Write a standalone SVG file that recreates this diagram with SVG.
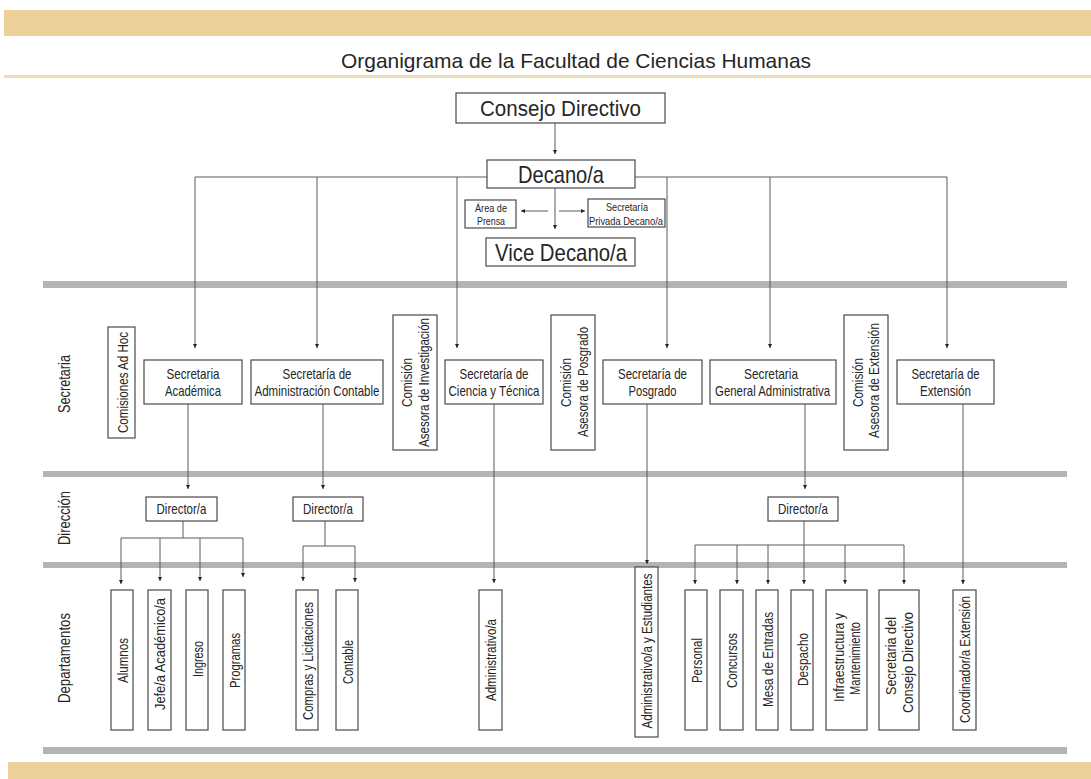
<svg xmlns="http://www.w3.org/2000/svg" width="1091" height="779" viewBox="0 0 1091 779">
<defs>
<style>
.bg{fill:#ffffff}
.tan{fill:#EBD09A}
.tanl{fill:#EFDCB2}
.gray{fill:#B4B4B4}
.box{fill:#ffffff;stroke:#4a4a4a;stroke-width:1.2}
.t{font-family:"Liberation Sans",Arial,sans-serif;fill:#262626;text-anchor:middle}
.c line,.c path{stroke:#5a5a5a;stroke-width:1;fill:none}
</style>
<marker id="ah" viewBox="0 0 6 6" markerWidth="5" markerHeight="4" refX="6" refY="3" orient="auto" markerUnits="userSpaceOnUse">
<path d="M0,0 L6,3 L0,6 z" fill="#222"/>
</marker>
</defs>
<rect class="bg" x="0" y="0" width="1091" height="779"/>
<rect class="tan" x="4" y="10" width="1087" height="26"/>
<rect class="tanl" x="4" y="75" width="1087" height="3"/>
<rect class="tan" x="8" y="762" width="1083" height="17"/>
<rect class="gray" x="43" y="281" width="1024" height="7"/>
<rect class="gray" x="43" y="471" width="1024" height="6"/>
<rect class="gray" x="43" y="562" width="1024" height="6"/>
<rect class="gray" x="43" y="747" width="1024" height="7"/>

<text class="t" x="576" y="68" font-size="21" textLength="470" lengthAdjust="spacingAndGlyphs">Organigrama de la Facultad de Ciencias Humanas</text>

<g class="t" font-size="16">
<text transform="translate(64,384) rotate(-90)" x="0" y="5.5" textLength="58" lengthAdjust="spacingAndGlyphs">Secretaria</text>
<text transform="translate(64,518) rotate(-90)" x="0" y="5.5" textLength="54" lengthAdjust="spacingAndGlyphs">Dirección</text>
<text transform="translate(64,658) rotate(-90)" x="0" y="5.5" textLength="90" lengthAdjust="spacingAndGlyphs">Departamentos</text>
</g>

<g class="c">
<line x1="555" y1="123" x2="555" y2="154" marker-end="url(#ah)"/>
<line x1="555" y1="188" x2="555" y2="229" marker-end="url(#ah)"/>
<line x1="548" y1="211" x2="521" y2="211" marker-end="url(#ah)"/>
<line x1="559" y1="211" x2="585" y2="211" marker-end="url(#ah)"/>
<line x1="195" y1="177" x2="487" y2="177"/>
<line x1="635" y1="177" x2="947" y2="177"/>
<line x1="195" y1="177" x2="195" y2="348" marker-end="url(#ah)"/>
<line x1="317" y1="177" x2="317" y2="348" marker-end="url(#ah)"/>
<line x1="457" y1="177" x2="457" y2="348" marker-end="url(#ah)"/>
<line x1="667" y1="177" x2="667" y2="348" marker-end="url(#ah)"/>
<line x1="770" y1="177" x2="770" y2="348" marker-end="url(#ah)"/>
<line x1="947" y1="177" x2="947" y2="348" marker-end="url(#ah)"/>
<line x1="188" y1="404" x2="188" y2="489" marker-end="url(#ah)"/>
<line x1="323" y1="404" x2="323" y2="489" marker-end="url(#ah)"/>
<line x1="805" y1="404" x2="805" y2="489" marker-end="url(#ah)"/>
<line x1="494" y1="404" x2="494" y2="583" marker-end="url(#ah)"/>
<line x1="647" y1="404" x2="647" y2="564" marker-end="url(#ah)"/>
<line x1="963" y1="404" x2="963" y2="584" marker-end="url(#ah)"/>
<line x1="183" y1="521" x2="183" y2="538"/>
<line x1="121" y1="538" x2="243" y2="538"/>
<line x1="121" y1="538" x2="121" y2="584" marker-end="url(#ah)"/>
<line x1="160" y1="538" x2="160" y2="581" marker-end="url(#ah)"/>
<line x1="200" y1="538" x2="200" y2="581" marker-end="url(#ah)"/>
<line x1="243" y1="538" x2="243" y2="577" marker-end="url(#ah)"/>
<line x1="325" y1="521" x2="325" y2="546"/>
<line x1="303" y1="546" x2="355" y2="546"/>
<line x1="303" y1="546" x2="303" y2="581" marker-end="url(#ah)"/>
<line x1="355" y1="546" x2="355" y2="582" marker-end="url(#ah)"/>
<line x1="804" y1="521" x2="804" y2="584" marker-end="url(#ah)"/>
<line x1="695" y1="545" x2="904" y2="545"/>
<line x1="695" y1="545" x2="695" y2="584" marker-end="url(#ah)"/>
<line x1="737" y1="545" x2="737" y2="584" marker-end="url(#ah)"/>
<line x1="768" y1="545" x2="768" y2="584" marker-end="url(#ah)"/>
<line x1="845" y1="545" x2="845" y2="584" marker-end="url(#ah)"/>
<line x1="904" y1="545" x2="904" y2="584" marker-end="url(#ah)"/>
</g>

<g id="consejo"><rect class="box" x="456" y="93" width="209" height="30"/><text class="t" x="560.5" y="116" font-size="22" textLength="161" lengthAdjust="spacingAndGlyphs">Consejo Directivo</text></g>
<g id="decano"><rect class="box" x="487" y="160" width="148" height="28"/><text class="t" x="561" y="182.5" font-size="24" textLength="86" lengthAdjust="spacingAndGlyphs">Decano/a</text></g>
<g id="vice"><rect class="box" x="486" y="238" width="149" height="28"/><text class="t" x="561" y="260.5" font-size="24" textLength="132" lengthAdjust="spacingAndGlyphs">Vice Decano/a</text></g>
<g id="prensa"><rect class="box" x="465" y="200" width="51" height="28"/><text class="t" x="491" y="211.5" font-size="11" textLength="32" lengthAdjust="spacingAndGlyphs">Área de</text><text class="t" x="491" y="225" font-size="11" textLength="28" lengthAdjust="spacingAndGlyphs">Prensa</text></g>
<g id="privada"><rect class="box" x="588" y="199" width="77" height="28"/><text class="t" x="627" y="211" font-size="11" textLength="42" lengthAdjust="spacingAndGlyphs">Secretaría</text><text class="t" x="626" y="224.5" font-size="11" textLength="74" lengthAdjust="spacingAndGlyphs">Privada Decano/a</text></g>

<g id="sec-academica"><rect class="box" x="144" y="360" width="98" height="44"/><text class="t" x="193" y="378.5" font-size="15" textLength="53" lengthAdjust="spacingAndGlyphs">Secretaria</text><text class="t" x="193" y="395.5" font-size="15" textLength="56" lengthAdjust="spacingAndGlyphs">Académica</text></g>
<g id="sec-contable"><rect class="box" x="251" y="360" width="132" height="44"/><text class="t" x="317" y="378.5" font-size="15" textLength="69" lengthAdjust="spacingAndGlyphs">Secretaría de</text><text class="t" x="317" y="395.5" font-size="15" textLength="125" lengthAdjust="spacingAndGlyphs">Administración Contable</text></g>
<g id="sec-ciencia"><rect class="box" x="445" y="360" width="98" height="44"/><text class="t" x="494" y="378.5" font-size="15" textLength="69" lengthAdjust="spacingAndGlyphs">Secretaría de</text><text class="t" x="494" y="395.5" font-size="15" textLength="91" lengthAdjust="spacingAndGlyphs">Ciencia y Técnica</text></g>
<g id="sec-posgrado"><rect class="box" x="603" y="360" width="99" height="44"/><text class="t" x="652.5" y="378.5" font-size="15" textLength="69" lengthAdjust="spacingAndGlyphs">Secretaría de</text><text class="t" x="652.5" y="395.5" font-size="15" textLength="48" lengthAdjust="spacingAndGlyphs">Posgrado</text></g>
<g id="sec-general"><rect class="box" x="710" y="360" width="126" height="44"/><text class="t" x="771" y="378.5" font-size="15" textLength="54" lengthAdjust="spacingAndGlyphs">Secretaria</text><text class="t" x="772.5" y="395.5" font-size="15" textLength="115" lengthAdjust="spacingAndGlyphs">General Administrativa</text></g>
<g id="sec-extension"><rect class="box" x="897" y="360" width="97" height="44"/><text class="t" x="945.5" y="378.5" font-size="15" textLength="68" lengthAdjust="spacingAndGlyphs">Secretaría de</text><text class="t" x="945.5" y="395.5" font-size="15" textLength="51" lengthAdjust="spacingAndGlyphs">Extensión</text></g>

<g id="com-adhoc"><rect class="box" x="108" y="327" width="27" height="111"/><text class="t" transform="translate(122,382.5) rotate(-90)" x="0" y="5.5" font-size="15" textLength="101" lengthAdjust="spacingAndGlyphs">Comisiones Ad Hoc</text></g>
<g id="com-investigacion"><rect class="box" x="393" y="315" width="44" height="135"/><text class="t" transform="translate(406,382.5) rotate(-90)" x="0" y="5.5" font-size="15" textLength="49" lengthAdjust="spacingAndGlyphs">Comisión</text><text class="t" transform="translate(423,382.5) rotate(-90)" x="0" y="5.5" font-size="15" textLength="129" lengthAdjust="spacingAndGlyphs">Asesora de Investigación</text></g>
<g id="com-posgrado"><rect class="box" x="551" y="315" width="44" height="135"/><text class="t" transform="translate(565,382.5) rotate(-90)" x="0" y="5.5" font-size="15" textLength="49" lengthAdjust="spacingAndGlyphs">Comisión</text><text class="t" transform="translate(582,382) rotate(-90)" x="0" y="5.5" font-size="15" textLength="110" lengthAdjust="spacingAndGlyphs">Asesora de Posgrado</text></g>
<g id="com-extension"><rect class="box" x="844" y="315" width="44" height="135"/><text class="t" transform="translate(857,382.5) rotate(-90)" x="0" y="5.5" font-size="15" textLength="49" lengthAdjust="spacingAndGlyphs">Comisión</text><text class="t" transform="translate(873,380.5) rotate(-90)" x="0" y="5.5" font-size="15" textLength="115" lengthAdjust="spacingAndGlyphs">Asesora de Extensión</text></g>

<g id="dir-academica"><rect class="box" x="146" y="497" width="71" height="24"/><text class="t" x="181.5" y="514" font-size="15" textLength="50" lengthAdjust="spacingAndGlyphs">Director/a</text></g>
<g id="dir-contable"><rect class="box" x="293" y="497" width="70" height="24"/><text class="t" x="328" y="514" font-size="15" textLength="50" lengthAdjust="spacingAndGlyphs">Director/a</text></g>
<g id="dir-general"><rect class="box" x="768" y="497" width="70" height="24"/><text class="t" x="803" y="514" font-size="15" textLength="50" lengthAdjust="spacingAndGlyphs">Director/a</text></g>

<g id="dep-alumnos"><rect class="box" x="111" y="590" width="22" height="140"/><text class="t" transform="translate(122,660.5) rotate(-90)" x="0" y="5.5" font-size="15" textLength="45" lengthAdjust="spacingAndGlyphs">Alumnos</text></g>
<g id="dep-jefe"><rect class="box" x="148" y="590" width="23" height="140"/><text class="t" transform="translate(159.5,654) rotate(-90)" x="0" y="5.5" font-size="15" textLength="112" lengthAdjust="spacingAndGlyphs">Jefe/a Académico/a</text></g>
<g id="dep-ingreso"><rect class="box" x="186" y="590" width="22" height="140"/><text class="t" transform="translate(197,659) rotate(-90)" x="0" y="5.5" font-size="15" textLength="36" lengthAdjust="spacingAndGlyphs">Ingreso</text></g>
<g id="dep-programas"><rect class="box" x="223" y="590" width="22" height="140"/><text class="t" transform="translate(234,660.5) rotate(-90)" x="0" y="5.5" font-size="15" textLength="55" lengthAdjust="spacingAndGlyphs">Programas</text></g>
<g id="dep-compras"><rect class="box" x="296" y="590" width="22" height="140"/><text class="t" transform="translate(307,661) rotate(-90)" x="0" y="5.5" font-size="15" textLength="118" lengthAdjust="spacingAndGlyphs">Compras y Licitaciones</text></g>
<g id="dep-contable"><rect class="box" x="336" y="590" width="22" height="140"/><text class="t" transform="translate(347,662) rotate(-90)" x="0" y="5.5" font-size="15" textLength="44" lengthAdjust="spacingAndGlyphs">Contable</text></g>
<g id="dep-administrativo"><rect class="box" x="479" y="590" width="23" height="140"/><text class="t" transform="translate(490.5,660) rotate(-90)" x="0" y="5.5" font-size="15" textLength="82" lengthAdjust="spacingAndGlyphs">Administrativo/a</text></g>
<g id="dep-adm-estudiantes"><rect class="box" x="635" y="567" width="23" height="170"/><text class="t" transform="translate(646.5,651) rotate(-90)" x="0" y="5.5" font-size="15" textLength="155" lengthAdjust="spacingAndGlyphs">Administrativo/a y Estudiantes</text></g>
<g id="dep-personal"><rect class="box" x="685" y="590" width="22" height="140"/><text class="t" transform="translate(696,660.5) rotate(-90)" x="0" y="5.5" font-size="15" textLength="45" lengthAdjust="spacingAndGlyphs">Personal</text></g>
<g id="dep-concursos"><rect class="box" x="720" y="590" width="23" height="140"/><text class="t" transform="translate(731.5,660.5) rotate(-90)" x="0" y="5.5" font-size="15" textLength="55" lengthAdjust="spacingAndGlyphs">Concursos</text></g>
<g id="dep-mesa"><rect class="box" x="756" y="590" width="22" height="140"/><text class="t" transform="translate(767,659.5) rotate(-90)" x="0" y="5.5" font-size="15" textLength="95" lengthAdjust="spacingAndGlyphs">Mesa de Entradas</text></g>
<g id="dep-despacho"><rect class="box" x="791" y="590" width="22" height="140"/><text class="t" transform="translate(802,659.5) rotate(-90)" x="0" y="5.5" font-size="15" textLength="53" lengthAdjust="spacingAndGlyphs">Despacho</text></g>
<g id="dep-infra"><rect class="box" x="826" y="590" width="41" height="140"/><text class="t" transform="translate(838,657.5) rotate(-90)" x="0" y="5.5" font-size="15" textLength="89" lengthAdjust="spacingAndGlyphs">Infraestructura y</text><text class="t" transform="translate(854,658.5) rotate(-90)" x="0" y="5.5" font-size="15" textLength="73" lengthAdjust="spacingAndGlyphs">Mantenimiento</text></g>
<g id="dep-secretaria-cd"><rect class="box" x="879" y="590" width="40" height="140"/><text class="t" transform="translate(890,656) rotate(-90)" x="0" y="5.5" font-size="15" textLength="78" lengthAdjust="spacingAndGlyphs">Secretaria del</text><text class="t" transform="translate(907,662.5) rotate(-90)" x="0" y="5.5" font-size="15" textLength="101" lengthAdjust="spacingAndGlyphs">Consejo Directivo</text></g>
<g id="dep-coordinador"><rect class="box" x="953" y="590" width="23" height="140"/><text class="t" transform="translate(964.5,659.5) rotate(-90)" x="0" y="5.5" font-size="15" textLength="127" lengthAdjust="spacingAndGlyphs">Coordinador/a Extensión</text></g>
</svg>
